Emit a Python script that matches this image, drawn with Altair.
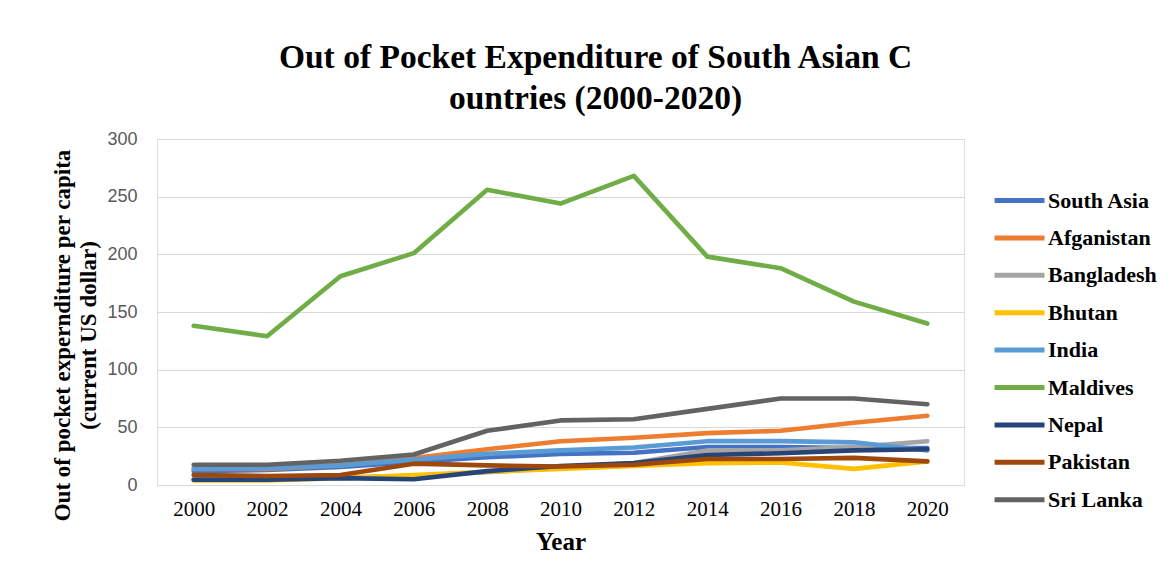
import altair as alt
import pandas as pd

years = [2000, 2002, 2004, 2006, 2008, 2010, 2012, 2014, 2016, 2018, 2020]

series_names = ["South Asia", "Afganistan", "Bangladesh", "Bhutan", "India",
                "Maldives", "Nepal", "Pakistan", "Sri Lanka"]
series_colors = ["#4472C4", "#ED7D31", "#A5A5A5", "#FFC000", "#5B9BD5",
                 "#70AD47", "#264478", "#9E480E", "#636363"]

south_asia = [12, 13, 15.7, 20, 24, 27, 28, 33, 33, 32, 32]
afganistan = [14, 14, 17, 23.4, 31, 38, 41, 45, 47, 54, 60]
bangladesh = [5, 5.5, 6.5, 8, 11, 15, 19, 30, 30, 33, 38]
bhutan = [4, 4, 6, 8.7, 11.5, 14, 16.5, 19, 19.5, 14, 20.5]
india = [14, 14.5, 17, 22, 27, 30, 32.5, 38, 38, 37, 30]
maldives = [138, 129, 181, 201, 256, 244, 268, 198, 188, 159, 140]
nepal = [4.5, 4.5, 6, 5, 12, 16.5, 19, 26, 27.5, 30, 31]
pakistan = [8.7, 7.8, 8.7, 18.5, 17, 16, 17.5, 22.5, 22.5, 23.5, 20.5]
sri_lanka = [17.5, 17.5, 21, 26.5, 47, 56, 57, 66, 75, 75, 70]

all_values = [south_asia, afganistan, bangladesh, bhutan, india,
              maldives, nepal, pakistan, sri_lanka]

rows = []
for name, vals in zip(series_names, all_values):
    for y, v in zip(years, vals):
        rows.append({"Year": str(y), "Country": name, "Value": v})
df = pd.DataFrame(rows)

serif = "Liberation Serif"

base = alt.Chart(df).encode(
    x=alt.X("Year:O", scale=alt.Scale(type="point", padding=0.5),
            axis=alt.Axis(title="Year", labelAngle=0, labelFont=serif,
                          labelFontSize=21, labelColor="#000000",
                          labelPadding=13, titleFont=serif, titleFontSize=25,
                          titleFontWeight="bold", titleColor="#000000",
                          titlePadding=10, domain=False, ticks=False, grid=False)),
    y=alt.Y("Value:Q", scale=alt.Scale(domain=[0, 300], nice=False),
            axis=alt.Axis(title=["Out of pocket expernditure per capita", "(current US dollar)"],
                          values=[0, 50, 100, 150, 200, 250, 300],
                          labelFont="Liberation Sans", labelFontSize=18,
                          labelColor="#595959", labelPadding=20,
                          titleFont=serif, titleFontSize=23, titleFontWeight="bold",
                          titleColor="#000000", titleLineHeight=26,
                          titleX=-83, titleY=196,
                          domain=False, ticks=False, grid=True,
                          gridColor="#D9D9D9", gridWidth=1)),
    color=alt.Color("Country:N",
                    scale=alt.Scale(domain=series_names, range=series_colors),
                    legend=alt.Legend(title=None, orient="none",
                                      legendX=855, legendY=44,
                                      symbolType="M-2.33,0L1,0",
                                      symbolSize=900, symbolStrokeWidth=5,
                                      labelFont=serif, labelFontSize=22,
                                      labelFontWeight="bold", labelColor="#000000",
                                      labelOffset=1, rowPadding=8.4)),
)

layers = []
for name in series_names:
    layers.append(
        base.transform_filter(alt.datum.Country == name)
        .mark_line(strokeWidth=4.6, strokeCap="round", strokeJoin="round")
    )

chart = alt.layer(*layers).properties(
    width=807, height=346,
    autosize=alt.AutoSizeParams(type="none"),
    padding={"left": 149, "top": 131, "right": 199, "bottom": 80},
    title=alt.TitleParams(
        text=["Out of Pocket Expenditure of South Asian C", "ountries (2000-2020)"],
        font=serif, fontSize=33.5, fontWeight="bold", color="#000000",
        anchor="middle", frame="group", dx=35, lineHeight=41, offset=14),
).configure_view(stroke=None).configure(background="#FFFFFF")

chart.save("out.html", embed_options={"renderer": "svg", "actions": False})
